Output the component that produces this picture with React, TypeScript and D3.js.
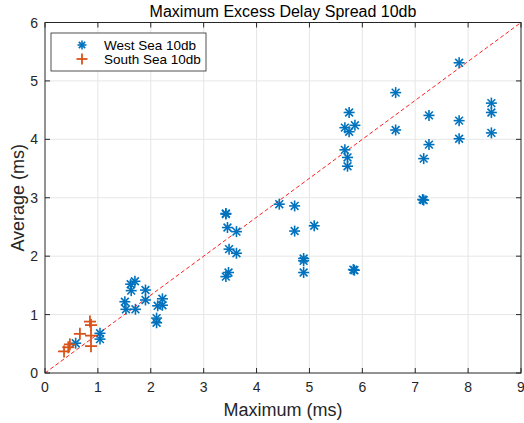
import React from 'react';
import * as d3 from 'd3';

// West Sea 10db points [maximum, average]
const westMax = [
  0.58, 1.04, 1.04, 1.51, 1.53, 1.62, 1.63, 1.7, 1.71, 1.9, 1.9, 2.11, 2.11, 2.13, 2.22, 2.22,
  3.42, 3.45, 3.42, 3.48, 3.47, 3.42, 3.62, 3.62, 4.43, 4.72, 4.72, 5.09, 4.89, 4.89, 4.89, 5.85, 5.83,
  5.67, 5.72, 5.72, 5.75, 5.67, 5.75, 5.86, 6.63, 6.63, 7.16, 7.14, 7.16, 7.26, 7.26, 7.83, 7.83, 7.83,
  8.44, 8.44, 8.44,
];
const westAvg = [
  0.51, 0.68, 0.58, 1.22, 1.09, 1.52, 1.41, 1.57, 1.09, 1.42, 1.25, 0.94, 0.86, 1.15, 1.27, 1.16,
  2.73, 2.49, 2.72, 2.12, 1.72, 1.65, 2.42, 2.05, 2.89, 2.86, 2.43, 2.52, 1.96, 1.92, 1.72, 1.76, 1.77,
  3.82, 3.69, 3.54, 4.46, 4.2, 4.13, 4.24, 4.8, 4.16, 2.96, 2.97, 3.67, 4.41, 3.91, 5.31, 4.32, 4.01,
  4.62, 4.46, 4.11,
];

// South Sea 10db points
const southMax = [0.85, 0.87, 0.66, 0.87, 0.87, 0.47, 0.44, 0.36];
const southAvg = [0.88, 0.82, 0.67, 0.64, 0.46, 0.49, 0.44, 0.37];

const xTicks = [0, 1, 2, 3, 4, 5, 6, 7, 8, 9];
const yTicks = [0, 1, 2, 3, 4, 5, 6];

const seriesNames = ['West Sea 10db', 'South Sea 10db'];
const fitLine = [[0, 0], [9, 6]];

const BLUE = '#0072BD';
const ORANGE = '#D95319';
const AXIS = '#262626';
const FONT = 'Liberation Sans, Arial, sans-serif';

const Star = ({ x, y, s }: { x: number; y: number; s: number }) => {
  const d = s * 0.7071;
  return (
    <g stroke={BLUE} strokeWidth={1.6}>
      <line x1={x - s} y1={y} x2={x + s} y2={y} />
      <line x1={x} y1={y - s} x2={x} y2={y + s} />
      <line x1={x - d} y1={y - d} x2={x + d} y2={y + d} />
      <line x1={x - d} y1={y + d} x2={x + d} y2={y - d} />
    </g>
  );
};

const Plus = ({ x, y, s }: { x: number; y: number; s: number }) => (
  <g stroke={ORANGE} strokeWidth={1.8}>
    <line x1={x - s} y1={y} x2={x + s} y2={y} />
    <line x1={x} y1={y - s} x2={x} y2={y + s} />
  </g>
);

const App: React.FC = () => {
  const width = 524;
  const height = 423;
  const margin = { left: 45, right: 3, top: 22.5, bottom: 50 };

  const xScale = d3.scaleLinear().domain([0, 9]).range([margin.left, width - margin.right]);
  const yScale = d3.scaleLinear().domain([0, 6]).range([height - margin.bottom, margin.top]);

  const x0 = xScale(0);
  const x1 = xScale(9);
  const y0 = yScale(0);
  const y1 = yScale(6);

  const line = d3.line<number[]>().x((d) => xScale(d[0])).y((d) => yScale(d[1]));

  return (
    <svg
      width={width}
      height={height}
      style={{ position: 'absolute', left: 0, top: 0, background: '#fff' }}
      fontFamily={FONT}
    >
      {/* grid */}
      <g stroke="#e6e6e6" strokeWidth={1}>
        {xTicks.slice(1, -1).map((t) => (
          <line key={`gx${t}`} x1={xScale(t)} x2={xScale(t)} y1={y0} y2={y1} />
        ))}
        {yTicks.slice(1, -1).map((t) => (
          <line key={`gy${t}`} x1={x0} x2={x1} y1={yScale(t)} y2={yScale(t)} />
        ))}
      </g>

      {/* fit line */}
      <path d={line(fitLine) || ''} fill="none" stroke="#ff2020" strokeWidth={1} strokeDasharray="4,2.5" />

      {/* data */}
      {westMax.map((v, i) => (
        <Star key={`w${i}`} x={xScale(v)} y={yScale(westAvg[i])} s={5.5} />
      ))}
      {southMax.map((v, i) => (
        <Plus key={`s${i}`} x={xScale(v)} y={yScale(southAvg[i])} s={6} />
      ))}

      {/* axes box and ticks */}
      <rect x={x0} y={y1} width={x1 - x0} height={y0 - y1} fill="none" stroke={AXIS} strokeWidth={1} />
      <g stroke={AXIS} strokeWidth={1}>
        {xTicks.map((t) => (
          <g key={`tx${t}`}>
            <line x1={xScale(t)} x2={xScale(t)} y1={y0} y2={y0 - 5} />
            <line x1={xScale(t)} x2={xScale(t)} y1={y1} y2={y1 + 5} />
          </g>
        ))}
        {yTicks.map((t) => (
          <g key={`ty${t}`}>
            <line x1={x0} x2={x0 + 5} y1={yScale(t)} y2={yScale(t)} />
            <line x1={x1} x2={x1 - 5} y1={yScale(t)} y2={yScale(t)} />
          </g>
        ))}
      </g>
      <g fontSize={14} fill={AXIS}>
        {xTicks.map((t) => (
          <text key={`lx${t}`} x={xScale(t)} y={y0 + 19} textAnchor="middle">
            {t}
          </text>
        ))}
        {yTicks.map((t) => (
          <text key={`ly${t}`} x={x0 - 7} y={yScale(t) + 5} textAnchor="end">
            {t}
          </text>
        ))}
      </g>

      {/* labels */}
      <text x={(x0 + x1) / 2} y={17} textAnchor="middle" fontSize={16} fill="#000">
        Maximum Excess Delay Spread 10db
      </text>
      <text x={(x0 + x1) / 2} y={416} textAnchor="middle" fontSize={18} fill={AXIS}>
        Maximum (ms)
      </text>
      <text
        transform={`translate(24, ${(y0 + y1) / 2}) rotate(-90)`}
        textAnchor="middle"
        fontSize={18}
        fill={AXIS}
      >
        Average (ms)
      </text>

      {/* legend */}
      <g>
        <rect x={51} y={33} width={155} height={38} fill="#fff" stroke={AXIS} strokeWidth={0.8} />
        <Star x={82} y={45} s={4.5} />
        <Plus x={82} y={59} s={5.5} />
        <text x={104} y={49.5} fontSize={13.5} fill="#000">
          {seriesNames[0]}
        </text>
        <text x={104} y={63.5} fontSize={13.5} fill="#000">
          {seriesNames[1]}
        </text>
      </g>
    </svg>
  );
};

export default App;
